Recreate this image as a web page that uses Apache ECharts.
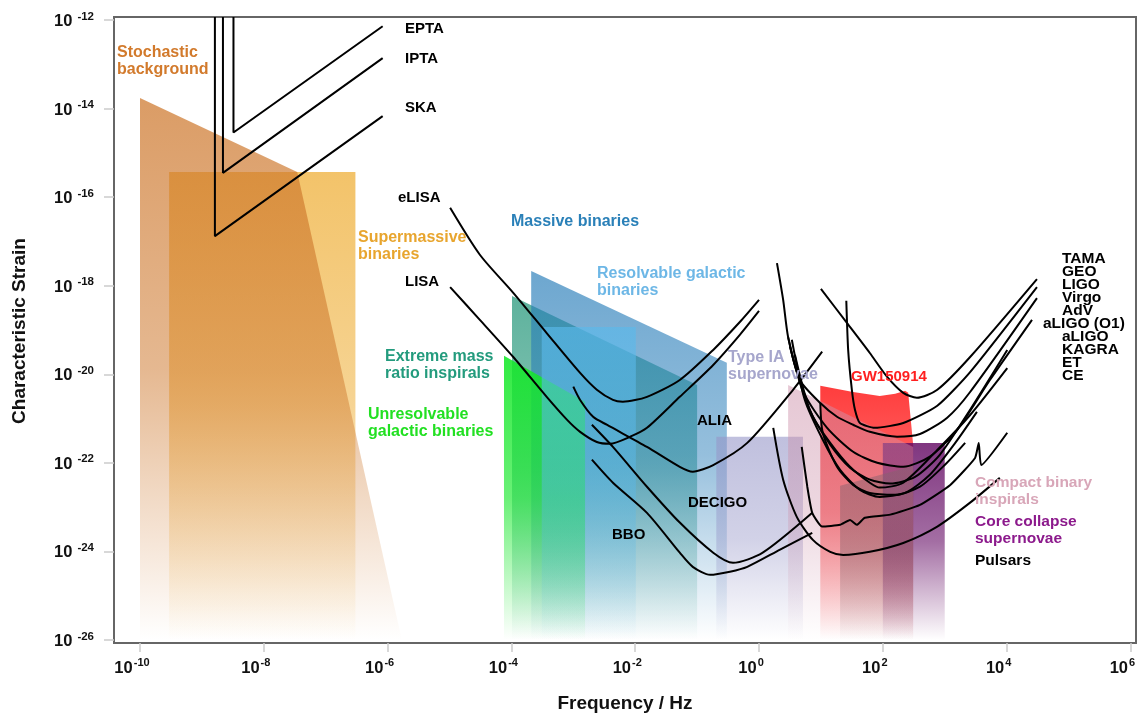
<!DOCTYPE html>
<html><head><meta charset="utf-8">
<script src="https://cdn.jsdelivr.net/npm/echarts@6/dist/echarts.min.js"></script>
<style>html,body{margin:0;padding:0;background:#fff}#c{width:1138px;height:715px}</style>
</head><body><div id="c"></div>
<script>
// ---- axes: values are log10 exponents ----
const xTickExps = [-10,-8,-6,-4,-2,0,2,4,6];
const yTickExps = [-26,-24,-22,-20,-18,-16,-14,-12];
const xRange = [-10.42, 6.09];
const yRange = [-26.07, -11.93];

// ---- source regions: [log10 frequency/Hz, log10 characteristic strain] ----
const stochasticBackground = [[-10,-13.76],[-7.46,-15.43],[-5.77,-26],[-10,-26]];
const supermassiveBinaries = [[-9.53,-15.43],[-6.52,-15.43],[-6.52,-26],[-9.53,-26]];
const massiveBinaries = [[-3.68,-17.67],[-0.52,-19.74],[-0.52,-26],[-3.68,-26]];
const extremeMassRatio = [[-3.99,-18.23],[-1.00,-20.24],[-1.00,-26],[-3.99,-26]];
const unresolvableGalactic = [[-4.12,-19.58],[-2.81,-20.62],[-2.81,-26],[-4.12,-26]];
const resolvableGalactic = [[-3.51,-18.93],[-1.99,-18.93],[-1.99,-26],[-3.51,-26]];
const typeIASupernovae = [[-0.69,-21.41],[0.71,-21.41],[0.71,-26],[-0.69,-26]];
const compactBinaryInspirals = [[0.47,-20.24],[2.49,-21.64],[2.49,-26],[0.47,-26]];
const gw150914 = [[0.99,-20.26],[1.52,-20.40],[1.95,-20.49],[2.20,-20.44],[2.36,-20.37],[2.41,-20.42],[2.49,-21.59],[2.49,-26],[0.99,-26]];
const pulsars = [[1.31,-22.52],[2.49,-22.07],[2.49,-26],[1.31,-26]];
const coreCollapse = [[2.00,-21.55],[3.00,-21.55],[3.00,-26],[2.00,-26]];

// ---- detector sensitivity curves ----
const epta = [[-8.49,-11.93],[-8.49,-14.54],[-6.08,-12.14]];
const ipta = [[-8.66,-11.93],[-8.66,-15.45],[-6.08,-12.86]];
const ska = [[-8.79,-11.93],[-8.79,-16.88],[-6.08,-14.17]];
const eLISA = [[-4.99,-16.24],[-4.51,-17.30],[-3.97,-18.16],[-3.43,-19.07],[-2.89,-19.97],[-2.62,-20.35],[-2.36,-20.58],[-2.20,-20.62],[-1.81,-20.51],[-1.28,-20.13],[-0.74,-19.45],[-0.31,-18.82],[0.00,-18.32]];
const LISA = [[-4.99,-18.03],[-4.51,-18.77],[-3.97,-19.61],[-3.43,-20.51],[-3.10,-21.03],[-2.89,-21.30],[-2.62,-21.53],[-2.41,-21.57],[-2.08,-21.41],[-1.81,-21.21],[-1.28,-20.51],[-0.74,-19.79],[-0.31,-19.11],[0.00,-18.57]];
const ALIA = [[-3.00,-20.28],[-2.89,-20.58],[-2.68,-20.96],[-2.46,-21.14],[-1.81,-21.64],[-1.28,-22.09],[-1.07,-22.20],[-0.74,-22.05],[-0.19,-21.55],[0.55,-20.35],[1.02,-19.49]];
const DECIGO = [[-2.70,-21.14],[-2.36,-21.64],[-1.81,-22.54],[-1.28,-23.35],[-0.74,-24.03],[-0.42,-24.26],[0.06,-24.03],[0.86,-23.13]];
const BBO = [[-2.70,-21.93],[-2.36,-22.45],[-1.81,-23.13],[-1.28,-24.03],[-1.07,-24.35],[-0.79,-24.53],[-0.47,-24.46],[-0.19,-24.35],[0.34,-23.96],[0.86,-23.58]];
const TAMA = [[1.00,-18.07],[1.42,-18.84],[1.79,-19.52],[2.07,-20.06],[2.33,-20.42],[2.55,-20.53],[2.88,-20.35],[3.41,-19.61],[4.49,-17.85]];
const GEO = [[1.41,-18.34],[1.44,-19.45],[1.50,-20.35],[1.55,-20.80],[1.63,-21.10],[1.87,-21.21],[2.33,-21.10],[2.88,-20.71],[3.41,-19.95],[4.49,-18.03]];
const LIGO = [[0.47,-19.16],[0.66,-20.13],[0.99,-20.65],[1.26,-20.96],[1.52,-21.14],[1.79,-21.30],[2.23,-21.41],[2.60,-21.35],[3.04,-20.98],[3.41,-20.40],[4.49,-18.28]];
const Virgo = [[0.50,-19.38],[0.74,-20.46],[1.10,-21.21],[1.52,-21.75],[1.91,-22.00],[2.33,-22.09],[2.76,-21.86],[3.20,-21.26],[3.73,-20.13],[4.41,-18.77]];
const AdV = [[0.58,-19.56],[0.82,-20.80],[1.15,-21.59],[1.47,-22.11],[1.79,-22.38],[2.12,-22.47],[2.52,-22.32],[2.92,-21.82],[3.41,-20.80],[4.01,-19.45]];
const aLIGO_O1 = [[0.29,-17.49],[0.39,-18.32],[0.47,-19.16],[0.66,-20.19],[0.87,-20.96],[1.15,-21.55],[1.47,-22.09],[1.79,-22.45],[1.95,-22.56],[2.33,-22.45],[2.88,-21.71],[3.41,-20.92],[4.01,-19.86]];
const aLIGO = [[0.53,-19.22],[0.74,-20.58],[1.03,-21.48],[1.31,-22.16],[1.63,-22.61],[1.95,-22.77],[2.36,-22.68],[2.76,-22.27],[3.17,-21.55],[3.52,-20.85]];
const KAGRA = [[0.99,-20.65],[1.03,-21.32],[1.26,-22.09],[1.52,-22.50],[1.79,-22.68],[2.20,-22.72],[2.60,-22.54],[3.00,-22.05],[3.33,-21.55]];
const ET = [[0.69,-21.64],[0.78,-22.54],[0.86,-23.13],[1.02,-23.44],[1.31,-23.40],[1.47,-23.29],[1.58,-23.40],[1.71,-23.24],[2.12,-23.17],[2.60,-22.95],[3.09,-22.50],[3.49,-21.89],[3.55,-21.55],[3.59,-22.05],[4.01,-21.32]];
const CE = [[0.23,-21.21],[0.39,-22.38],[0.61,-23.22],[0.87,-23.74],[1.15,-24.01],[1.36,-24.08],[1.79,-24.01],[2.33,-23.81],[2.88,-23.44],[3.41,-22.90],[3.89,-22.34]];

const FONT = "'Liberation Sans', Arial, Helvetica, sans-serif";

function region(pts, rgb, a, z) {
  return {
    type: 'custom', coordinateSystem: 'cartesian2d', silent: true, z: z,
    data: [pts[0]], encode: {x: 0, y: 1},
    renderItem: function (params, api) {
      return {
        type: 'polygon',
        shape: {points: pts.map(function (p) { return api.coord(p); })},
        style: {fill: new echarts.graphic.LinearGradient(0, 0, 0, 1, [
          {offset: 0, color: 'rgba(' + rgb + ',' + a + ')'},
          {offset: 0.5, color: 'rgba(' + rgb + ',' + (a * 0.72) + ')'},
          {offset: 1, color: 'rgba(' + rgb + ',0)'}
        ])}
      };
    }
  };
}
function curve(pts, smooth) {
  return {type: 'line', data: pts, symbol: 'none', showSymbol: false, smooth: smooth, silent: true, z: 20,
          lineStyle: {color: '#000', width: 2}};
}
function label(text, x, y, color, size, valign) {
  return {type: 'text', z: 100, silent: true, style: {
    text: text, x: x, y: y, fill: color, fontSize: size || 16, fontWeight: 'bold', fontFamily: FONT,
    lineHeight: 17, textAlign: 'left', textVerticalAlign: valign || 'middle'}};
}

function richFor(gap, expSize) {
  return {
    b: {fontSize: 16.5, fontWeight: 'bold', fontFamily: FONT, color: '#111', lineHeight: 22},
    s: {fontSize: expSize, fontWeight: 'bold', fontFamily: FONT, color: '#111', lineHeight: 12, verticalAlign: 'top', padding: [0, 0, 0, gap]}
  };
}
const fmt = function (v) { return '{b|10}{s|' + Math.round(v) + '}'; };

const detectorNames = ['TAMA','GEO','LIGO','Virgo','AdV','aLIGO (O1)','aLIGO','KAGRA','ET','CE'];

const graphics = [
  label('Stochastic\nbackground', 117, 44, '#d27a2c', 16, 'top'),
  label('Supermassive\nbinaries', 358, 229, '#e8a52e', 16, 'top'),
  label('EPTA', 405, 29, '#000', 15),
  label('IPTA', 405, 59, '#000', 15),
  label('SKA', 405, 108, '#000', 15),
  label('eLISA', 398, 198, '#000', 15),
  label('LISA', 405, 282, '#000', 15),
  label('Massive binaries', 511, 222, '#2a80b8', 16),
  label('Resolvable galactic\nbinaries', 597, 265, '#6db7e6', 16, 'top'),
  label('Extreme mass\nratio inspirals', 385, 348, '#239b7d', 16, 'top'),
  label('Unresolvable\ngalactic binaries', 368, 406, '#22e022', 16, 'top'),
  label('Type IA\nsupernovae', 728, 349, '#a6a6cc', 16, 'top'),
  label('ALIA', 697, 421, '#000', 15),
  label('DECIGO', 688, 503, '#000', 15),
  label('BBO', 612, 535, '#000', 15),
  label('GW150914', 851, 377, '#ff2020', 15),
  label('Compact binary\ninspirals', 975, 474, '#d8a6b8', 15.5, 'top'),
  label('Core collapse\nsupernovae', 975, 513, '#8c1a8c', 15.5, 'top'),
  label('Pulsars', 975, 561, '#000', 15.5),
  {type: 'text', z: 100, x: 20, y: 331, rotation: Math.PI / 2, silent: true,
   style: {text: 'Characteristic Strain', fill: '#111', fontSize: 19, fontWeight: 'bold', fontFamily: FONT, textAlign: 'center', textVerticalAlign: 'middle'}},
  {type: 'text', z: 100, x: 625, y: 704, silent: true,
   style: {text: 'Frequency / Hz', fill: '#111', fontSize: 19, fontWeight: 'bold', fontFamily: FONT, textAlign: 'center', textVerticalAlign: 'middle'}}
];
detectorNames.forEach(function (n, i) {
  const g = label(n, n === 'aLIGO (O1)' ? 1043 : 1062, 259 + i * 13, '#000', 15.5);
  g.style.lineHeight = 13;
  graphics.push(g);
});

const option = {
  animation: false,
  backgroundColor: '#fff',
  grid: {left: 114, right: 2, top: 17, bottom: 72, containLabel: false, outerBoundsMode: 'none',
         show: true, borderColor: '#666', borderWidth: 2, backgroundColor: 'transparent'},
  xAxis: {
    type: 'value', min: xRange[0], max: xRange[1],
    axisLine: {show: false, onZero: false}, splitLine: {show: false},
    axisTick: {show: true, length: 9, lineStyle: {color: '#ccc', width: 1.5}, customValues: xTickExps},
    axisLabel: {customValues: xTickExps, formatter: fmt, rich: richFor(1, 11), margin: 14, padding: [0, 16, 0, 0], hideOverlap: false}
  },
  yAxis: {
    type: 'value', min: yRange[0], max: yRange[1],
    axisLine: {show: false, onZero: false}, splitLine: {show: false},
    axisTick: {show: true, length: 10, lineStyle: {color: '#ccc', width: 1.5}, customValues: yTickExps},
    axisLabel: {customValues: yTickExps, formatter: fmt, rich: richFor(5, 11.5), margin: 20, padding: [3, 0, 0, 0]}
  },
  graphic: graphics,
  series: [
    region(supermassiveBinaries, '238,172,48', 0.72, 1),
    region(stochasticBackground, '205,118,42', 0.72, 2),
    region(extremeMassRatio, '25,145,115', 0.7, 3),
    region(massiveBinaries, '40,125,185', 0.68, 4),
    region(unresolvableGalactic, '20,232,40', 0.88, 5),
    region(resolvableGalactic, '90,185,235', 0.65, 6),
    region(typeIASupernovae, '150,150,200', 0.6, 7),
    region(gw150914, '255,40,40', 0.9, 8),
    region(coreCollapse, '100,10,100', 0.82, 9),
    region(pulsars, '85,65,70', 0.5, 10),
    region(compactBinaryInspirals, '205,145,170', 0.5, 11),
    curve(epta, false), curve(ipta, false), curve(ska, false),
    curve(eLISA, 0.25), curve(LISA, 0.25), curve(ALIA, 0.25), curve(DECIGO, 0.25), curve(BBO, 0.25),
    curve(TAMA, 0.25), curve(GEO, 0.2), curve(LIGO, 0.25), curve(Virgo, 0.25), curve(AdV, 0.25),
    curve(aLIGO_O1, 0.25), curve(aLIGO, 0.25), curve(KAGRA, 0.25), curve(ET, 0.15), curve(CE, 0.25)
  ]
};
const chart = echarts.init(document.getElementById('c'), null, {renderer: 'canvas'});
chart.setOption(option);
</script></body></html>
